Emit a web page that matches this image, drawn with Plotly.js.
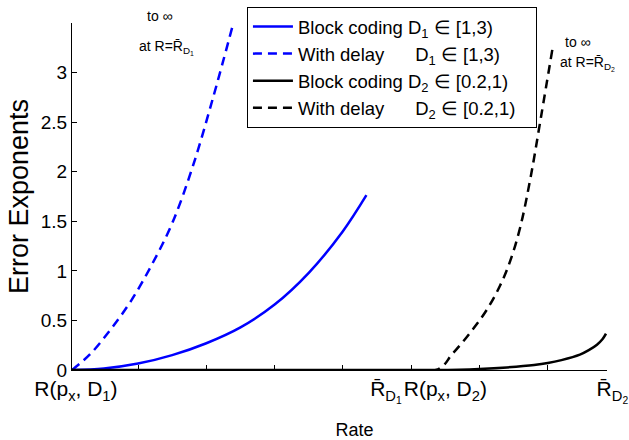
<!DOCTYPE html>
<html>
<head>
<meta charset="utf-8">
<script src="https://cdn.plot.ly/plotly-3.0.1.min.js"></script>
<style>html,body{margin:0;padding:0;background:#fff;}#chart{width:629px;height:440px;}</style>
</head>
<body>
<div id="chart"></div>
<script>
// ---- data (x in tick-spacing units, y = error exponent) ----
const blueBlockX = [0.033, 0.5, 1.0, 1.5, 2.0, 2.5, 3.0, 3.5, 4.0, 4.344];
const blueBlockY = [0, 0.015, 0.065, 0.15, 0.27, 0.43, 0.66, 0.98, 1.4, 1.763];

const blueDelayX = [0.033, 0.3, 0.6, 0.9, 1.2, 1.5, 1.8, 2.1, 2.396];
const blueDelayY = [0, 0.16, 0.41, 0.70, 1.06, 1.48, 2.05, 2.75, 3.5];

const blackBlockX = [0.033, 5.3, 5.7, 6.0, 6.4, 6.8, 7.0, 7.2, 7.47, 7.6, 7.72, 7.8, 7.852];
const blackBlockY = [0, 0, 0.003, 0.01, 0.026, 0.05, 0.07, 0.1, 0.155, 0.2, 0.255, 0.31, 0.366];

const blackDelayX = [0.033, 5.365, 5.6, 5.868, 6.1, 6.3, 6.45, 6.6, 6.75, 6.9, 7.066];
const blackDelayY = [0, 0, 0.16, 0.38, 0.6, 0.85, 1.1, 1.45, 1.95, 2.55, 3.23];

const seriesNames = [
  "Block coding D<sub>1</sub> \u2208 [1,3)",
  "With delay\u00a0\u00a0\u00a0\u00a0\u00a0\u00a0D<sub>1</sub> \u2208 [1,3)",
  "Block coding D<sub>2</sub> \u2208 [0.2,1)\u00a0\u00a0\u00a0\u200b",
  "With delay\u00a0\u00a0\u00a0\u00a0\u00a0\u00a0D<sub>2</sub> \u2208 [0.2,1)\u00a0\u00a0\u00a0\u200b"
];

const xTickVals = [0.09, 4.63, 5.5, 7.86];
const xTickText = ["R(p<sub>x</sub>, D<sub>1</sub>)", "R\u0304<sub>D<sub>1</sub></sub>", "R(p<sub>x</sub>, D<sub>2</sub>)", "\u00a0\u00a0R\u0304<sub>D<sub>2</sub></sub>"];
const xMinorTicks = [1, 2, 3, 4, 5, 6, 7];
const yTickVals = [0, 0.5, 1, 1.5, 2, 2.5, 3];
const yTickText = ["0", "0.5", "1", "1.5", "2", "2.5", "3"];

const noteTexts = ["to \u221e", "at R=R\u0304<sub>D<sub>1</sub></sub>", "to \u221e", "at R=R\u0304<sub>D<sub>2</sub></sub>"];

const FONT = "Liberation Sans, Arial, Helvetica, sans-serif";
const dashPat = "9px,6px";

const traces = [
  {x: blueBlockX, y: blueBlockY, name: seriesNames[0], legendgroup: "a", mode: "lines", line: {color: "#0000ff", width: 2.5, shape: "spline", smoothing: 1}},
  {x: blueDelayX, y: blueDelayY, name: seriesNames[1], legendgroup: "b", mode: "lines", line: {color: "#0000ff", width: 2.5, dash: dashPat, shape: "spline", smoothing: 1}},
  {x: blackBlockX, y: blackBlockY, name: seriesNames[2], legendgroup: "c", mode: "lines", line: {color: "#000000", width: 2.5, shape: "spline", smoothing: 1}},
  {x: blackDelayX, y: blackDelayY, name: seriesNames[3], legendgroup: "d", mode: "lines", line: {color: "#000000", width: 2.5, dash: dashPat, shape: "spline", smoothing: 1}}
];

const layout = {
  width: 629, height: 440,
  margin: {l: 72, r: 22, t: 23, b: 70, pad: 0, autoexpand: false},
  paper_bgcolor: "#ffffff", plot_bgcolor: "#ffffff",
  font: {family: FONT, color: "#000000", size: 18},
  showlegend: true,
  legend: {
    x: 0.327, y: 1.046, xanchor: "left", yanchor: "top",
    bordercolor: "#000000", borderwidth: 1, bgcolor: "#ffffff",
    font: {family: FONT, size: 18.5, color: "#000000"},
    tracegroupgap: 0, itemwidth: 40
  },
  xaxis: {
    range: [0.033, 7.867],
    showgrid: false, zeroline: false,
    showline: true, linecolor: "#000000", linewidth: 1,
    tickmode: "array", tickvals: xTickVals, ticktext: xTickText,
    ticks: "", tickangle: 0, tickfont: {family: FONT, size: 21, color: "#000000"},
    minor: {tickmode: "array", tickvals: xMinorTicks, ticks: "inside", ticklen: 5, tickcolor: "#000000", tickwidth: 1, showgrid: false},
    title: {text: "\u200b\u00a0\u00a0\u00a0\u00a0\u00a0\u00a0Rate", font: {family: FONT, size: 18, color: "#000000"}, standoff: 20}
  },
  yaxis: {
    range: [0, 3.5],
    showgrid: false, zeroline: false,
    showline: true, linecolor: "#000000", linewidth: 1,
    tickmode: "array", tickvals: yTickVals, ticktext: yTickText,
    ticks: "inside", ticklen: 5, tickcolor: "#000000",
    tickfont: {family: FONT, size: 19, color: "#000000"},
    title: {text: "Error Exponents", font: {family: FONT, size: 27, color: "#000000"}, standoff: 4}
  },
  annotations: [
    {x: (160 - 72) / 535, y: (370 - 16) / 347, xref: "paper", yref: "paper", xanchor: "center", yanchor: "middle", text: noteTexts[0], showarrow: false, font: {family: FONT, size: 14}},
    {x: (166 - 72) / 535, y: (370 - 47) / 347, xref: "paper", yref: "paper", xanchor: "center", yanchor: "middle", text: noteTexts[1], showarrow: false, font: {family: FONT, size: 14}},
    {x: (578 - 72) / 535, y: (370 - 42) / 347, xref: "paper", yref: "paper", xanchor: "center", yanchor: "middle", text: noteTexts[2], showarrow: false, font: {family: FONT, size: 14}},
    {x: (587 - 72) / 535, y: (370 - 63) / 347, xref: "paper", yref: "paper", xanchor: "center", yanchor: "middle", text: noteTexts[3], showarrow: false, font: {family: FONT, size: 14}}
  ]
};

Plotly.newPlot("chart", traces, layout, {displayModeBar: false, staticPlot: true});
</script>
</body>
</html>
